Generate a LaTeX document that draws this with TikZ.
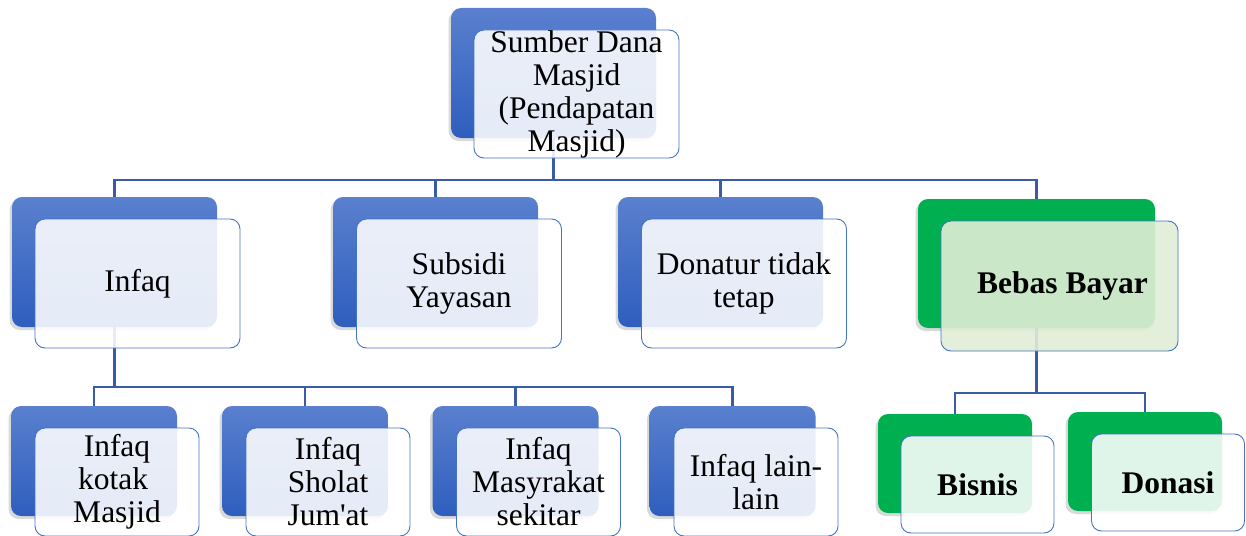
\documentclass[tikz,border=0pt]{standalone}
\usepackage{fontspec}
\setmainfont{Liberation Serif}
\usetikzlibrary{shadows}
\definecolor{boxblueA}{HTML}{5A80CE}
\definecolor{boxblueB}{HTML}{2E5EBE}
\definecolor{boxgreen}{HTML}{00B050}
\definecolor{lightgreen}{HTML}{E0EDD6}
\definecolor{edgeblue}{HTML}{4472C4}
\definecolor{linkblue}{HTML}{3A5BA7}
\begin{document}
\begin{tikzpicture}[x=1pt,y=-1pt,
    back/.style={rounded corners=10pt,inner sep=0pt,
      drop shadow={shadow xshift=-2.5pt,shadow yshift=-3pt,opacity=0.3}},
    blueback/.style={back,top color=boxblueA,bottom color=boxblueB,draw=none},
    greenback/.style={back,fill=boxgreen},
    front/.style={rounded corners=10pt,inner sep=0pt,draw=edgeblue,line width=0.9pt,
      align=center,font=\fontsize{31.5}{33}\selectfont},
    bluefront/.style={front,fill=white,fill opacity=0.88,text opacity=1},
    greenfront/.style={front,fill=lightgreen,fill opacity=0.9,text opacity=1},
    link/.style={draw=linkblue,line width=2.6pt}]
    \useasboundingbox (0,0) rectangle (1246,535);
    \draw (553.5,73)   node[blueback,minimum width=205pt,minimum height=130pt] (sumberbg) {};
    \draw (114.5,262)  node[blueback,minimum width=205pt,minimum height=130pt] (infaqbg) {};
    \draw (435.5,262)  node[blueback,minimum width=205pt,minimum height=130pt] (subsidibg) {};
    \draw (720.5,262)  node[blueback,minimum width=205pt,minimum height=130pt] (donaturbg) {};
    \draw (1036.5,263.5) node[greenback,minimum width=237pt,minimum height=129pt] (bebasbg) {};
    \draw (94,461)     node[blueback,minimum width=166pt,minimum height=110pt] (kotakbg) {};
    \draw (305,461)    node[blueback,minimum width=166pt,minimum height=110pt] (sholatbg) {};
    \draw (515.5,461)  node[blueback,minimum width=166pt,minimum height=110pt] (masyarakatbg) {};
    \draw (732.5,461)  node[blueback,minimum width=166pt,minimum height=110pt] (lainbg) {};
    \draw (955,463.5)  node[greenback,minimum width=154pt,minimum height=99pt] (bisnisbg) {};
    \draw (1145,461.5) node[greenback,minimum width=154pt,minimum height=99pt] (donasibg) {};
    \coordinate (hubA) at (553.5,180);
    \coordinate (hubB) at (114.5,387);
    \coordinate (hubC) at (1036.5,393);
    \draw[link] (sumberbg.south) -- (hubA);
    \draw[link] (infaqbg.north) |- (hubA) -| (bebasbg.north);
    \draw[link] (subsidibg.north) -- (subsidibg.north |- hubA);
    \draw[link] (donaturbg.north) -- (donaturbg.north |- hubA);
    \draw[link] (infaqbg.south) -- (hubB);
    \draw[link] (kotakbg.north) |- (hubB) -| (lainbg.north);
    \draw[link] (sholatbg.north) -- (sholatbg.north |- hubB);
    \draw[link] (masyarakatbg.north) -- (masyarakatbg.north |- hubB);
    \draw[link] (bebasbg.south) -- (hubC);
    \draw[link] (bisnisbg.north) |- (hubC) -| (donasibg.north);
    \draw (576.5,94)   node[bluefront,minimum width=205pt,minimum height=128pt] (sumber) {Sumber Dana\\Masjid\\(Pendapatan\\Masjid)};
    \draw (137.5,283.5) node[bluefront,minimum width=205pt,minimum height=129pt] (infaq) {Infaq};
    \draw (459,283.5)  node[bluefront,minimum width=205pt,minimum height=129pt] (subsidi) {Subsidi\\Yayasan};
    \draw (744,283.5)  node[bluefront,minimum width=205pt,minimum height=129pt] (donatur) {Donatur tidak\\tetap};
    \draw (1059.5,286) node[greenfront,minimum width=237pt,minimum height=130pt] (bebas) {\kern6pt\bfseries Bebas Bayar};
    \draw (117,482)    node[bluefront,minimum width=164pt,minimum height=108pt] (kotak) {Infaq\\kotak\kern8pt\\Masjid};
    \draw (328,482)    node[bluefront,minimum width=164pt,minimum height=108pt] (sholat) {Infaq\\Sholat\\Jum\textquotesingle at};
    \draw (538.5,482)  node[bluefront,minimum width=164pt,minimum height=108pt] (masyarakat) {Infaq\\Masyrakat\\sekitar};
    \draw (756,482)    node[bluefront,minimum width=164pt,minimum height=108pt] (lain) {Infaq lain-\\lain};
    \draw (977.5,484.5) node[bluefront,minimum width=153pt,minimum height=97pt] (bisnis) {\bfseries Bisnis};
    \draw (1168,482.5) node[bluefront,minimum width=153pt,minimum height=97pt] (donasi) {\bfseries Donasi};
\end{tikzpicture}
\end{document}
